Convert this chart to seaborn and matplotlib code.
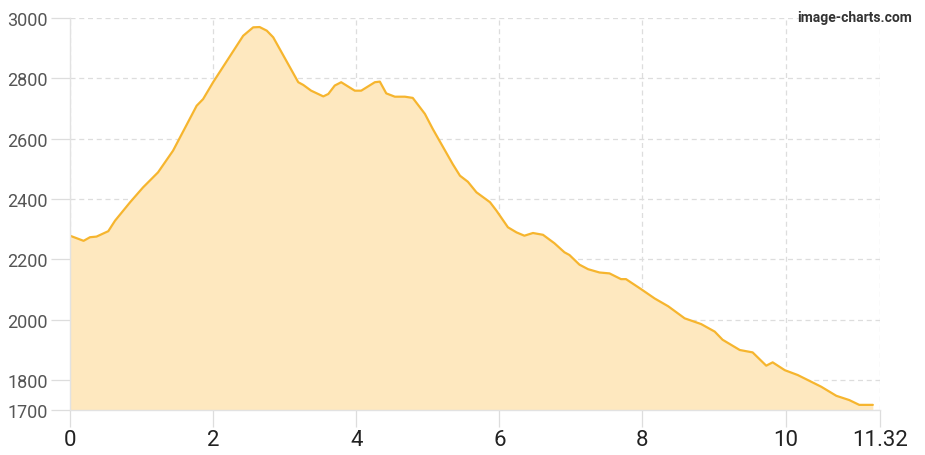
import matplotlib
matplotlib.use("Agg")
import matplotlib.pyplot as plt
import seaborn as sns
import pandas as pd

distance_km = [0.00, 0.19, 0.28, 0.37, 0.535, 0.63, 0.84, 1.02, 1.23, 1.44, 1.77, 1.86,
               2.00, 2.24, 2.42, 2.56, 2.65, 2.75, 2.84, 3.19, 3.26, 3.37, 3.54, 3.61,
               3.70, 3.79, 3.98, 4.07, 4.26, 4.33, 4.42, 4.54, 4.68, 4.79, 4.96, 5.07,
               5.35, 5.45, 5.56, 5.68, 5.87, 5.96, 6.12, 6.24, 6.35, 6.47, 6.61, 6.77,
               6.91, 6.98, 7.12, 7.24, 7.40, 7.54, 7.70, 7.77, 7.98, 8.17, 8.36, 8.59,
               8.82, 9.01, 9.12, 9.36, 9.54, 9.73, 9.82, 9.99, 10.17, 10.50, 10.71,
               10.89, 11.03, 11.22]
elevation_m = [2278, 2261, 2273, 2275, 2293, 2328, 2389, 2438, 2488, 2560, 2709, 2731,
               2787, 2875, 2941, 2969, 2970, 2958, 2936, 2787, 2778, 2759, 2740, 2748,
               2776, 2787, 2759, 2759, 2787, 2789, 2750, 2739, 2739, 2735, 2682, 2632,
               2515, 2477, 2457, 2422, 2389, 2361, 2306, 2289, 2278, 2287, 2281, 2253,
               2223, 2214, 2182, 2167, 2156, 2153, 2134, 2134, 2101, 2070, 2044, 2004,
               1985, 1960, 1933, 1899, 1891, 1847, 1858, 1832, 1816, 1777, 1747,
               1733, 1717, 1717]
x_ticks = [0, 2, 4, 6, 8, 10, 11.32]
x_tick_labels = ["0", "2", "4", "6", "8", "10", "11.32"]
y_ticks = [1700, 1800, 2000, 2200, 2400, 2600, 2800, 3000]

df = pd.DataFrame({"distance": distance_km, "elevation": elevation_m})

sns.set_theme(style="white")
plt.rcParams['font.family'] = ['Roboto', 'DejaVu Sans']

fig = plt.figure(figsize=(9.25, 4.56), dpi=100)
ax = fig.add_axes([70/925, 1 - 411/456, 810/925, 392/456])

line_color = "#F6B52E"
fill_color = "#FEE8BF"
ax.fill_between(df["distance"], 1700, df["elevation"], color=fill_color, linewidth=0, zorder=1)
sns.lineplot(data=df, x="distance", y="elevation", ax=ax, color=line_color, linewidth=1.6, zorder=2)

ax.set_xlim(0, 11.32)
ax.set_ylim(1700, 3000)
ax.set_xticks(x_ticks)
ax.set_xticklabels(x_tick_labels)
ax.set_yticks(y_ticks)
ax.set_xlabel("")
ax.set_ylabel("")

ax.grid(True, color="#DDDDDD", linestyle=(0, (4, 3)), linewidth=0.9, zorder=0)
ax.set_axisbelow(True)
for s in ["top", "right"]:
    ax.spines[s].set_visible(False)
for s in ["left", "bottom"]:
    ax.spines[s].set_color("#E2E2E2")
    ax.spines[s].set_linewidth(1.0)

ax.tick_params(axis="y", length=14, width=0.9, color="#DDDDDD", labelsize=13, labelcolor="#555555", pad=2)
ax.tick_params(axis="x", length=12, width=0.9, color="#DDDDDD", labelsize=16, labelcolor="#222222", pad=2)
ax.tick_params(left=True, bottom=True)

fig.text(912/925, 1 - 18/456, "image-charts.com", ha="right", va="center",
         fontsize=10, fontweight="bold", color="#333333")

fig.savefig("out.png", dpi=100)
